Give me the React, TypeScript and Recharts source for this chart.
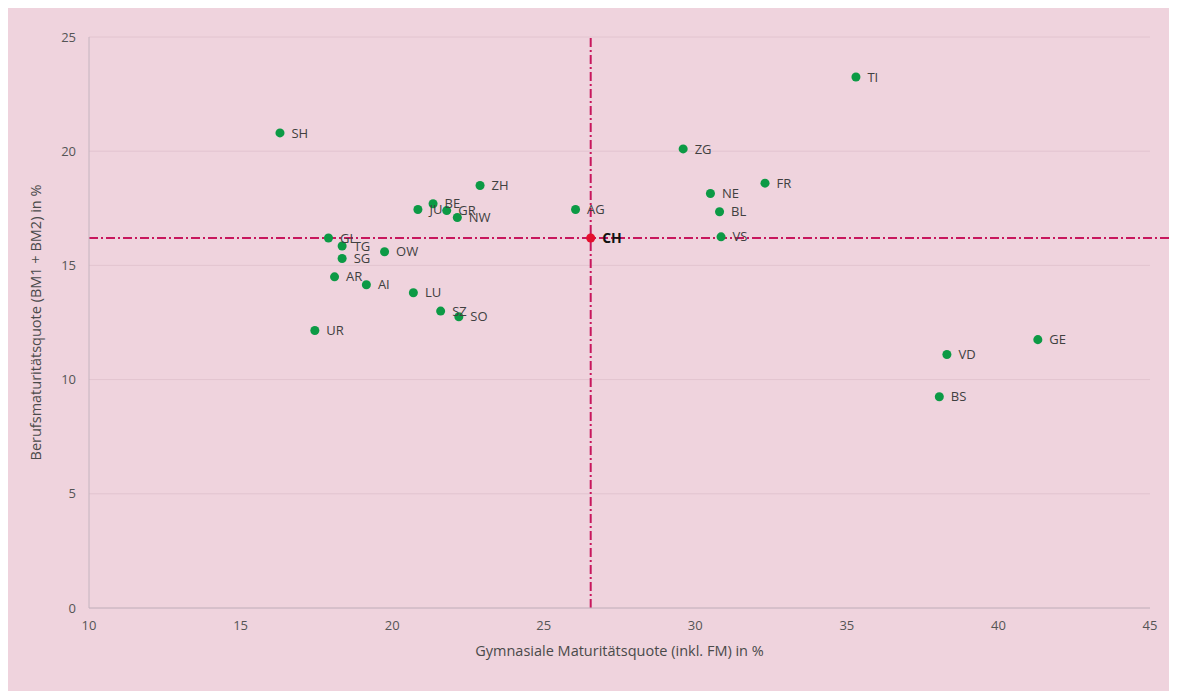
import { ScatterChart, Scatter, XAxis, YAxis, ZAxis, CartesianGrid, ReferenceLine, LabelList } from "recharts"

const cantons = ["TI", "SH", "ZG", "ZH", "FR", "NE", "BE", "JU", "GR", "NW", "AG", "BL", "VS", "GL", "TG", "SG", "OW", "AR", "AI", "LU", "SZ", "SO", "UR", "GE", "VD", "BS"]
const gymQuote = [35.3, 16.3, 29.6, 22.9, 32.3, 30.5, 21.35, 20.85, 21.8, 22.15, 26.05, 30.8, 30.85, 17.9, 18.35, 18.35, 19.75, 18.1, 19.15, 20.7, 21.6, 22.2, 17.45, 41.3, 38.3, 38.05]
const bmQuote = [23.25, 20.8, 20.1, 18.5, 18.6, 18.15, 17.7, 17.45, 17.4, 17.1, 17.45, 17.35, 16.25, 16.2, 15.85, 15.3, 15.6, 14.5, 14.15, 13.8, 13.0, 12.75, 12.15, 11.75, 11.1, 9.25]

const chName = "CH"
const chGym = 26.55
const chBm = 16.2

const xTicks = [10, 15, 20, 25, 30, 35, 40, 45]
const yTicks = [0, 5, 10, 15, 20, 25]

const points = cantons.map((name, i) => ({ name, x: gymQuote[i], y: bmQuote[i] }))
const chPoint = [{ name: chName, x: chGym, y: chBm }]

const font = "'Open Sans', Lato, sans-serif"
const lineColor = "#c8175d"
const dash = "9 3 2 3"

export default function App() {
  return (
    <div style={{ width: 1170, height: 687, marginTop: -4, marginLeft: -1, background: "#efd3dd", fontFamily: font }}>
      <ScatterChart width={1170} height={687} margin={{ top: 33, right: 27, left: 32, bottom: 33 }}>
        <CartesianGrid vertical={false} stroke="#e2c4cf" strokeWidth={1} />
        <XAxis
          type="number"
          dataKey="x"
          domain={[10, 45]}
          ticks={xTicks}
          height={50}
          tickLine={false}
          tickSize={0}
          tickMargin={13}
          stroke="#c4b4bf"
          tick={{ fill: "#555", fontSize: 13, fontFamily: font }}
          label={{
            content: ({ viewBox }: any) => (
              <text
                x={viewBox.x + viewBox.width / 2}
                y={viewBox.y + 48}
                textAnchor="middle"
                fill="#4a4a4a"
                fontSize={14.5}
                fontFamily={font}
              >
                Gymnasiale Maturitätsquote (inkl. FM) in %
              </text>
            ),
          }}
        />
        <YAxis
          type="number"
          dataKey="y"
          domain={[0, 25]}
          ticks={yTicks}
          width={50}
          tickLine={false}
          tickSize={0}
          tickMargin={13}
          stroke="#c4b4bf"
          tick={{ fill: "#555", fontSize: 13, fontFamily: font }}
          label={{
            content: ({ viewBox }: any) => {
              const cx = viewBox.x - 4
              const cy = viewBox.y + viewBox.height / 2
              return (
                <text
                  x={cx}
                  y={cy}
                  transform={`rotate(-90 ${cx} ${cy})`}
                  textAnchor="middle"
                  dominantBaseline="central"
                  fill="#4a4a4a"
                  fontSize={14.5}
                  fontFamily={font}
                >
                  Berufsmaturitätsquote (BM1 + BM2) in %
                </text>
              )
            },
          }}
        />
        <ZAxis range={[90, 90]} />
        <ReferenceLine
          y={chBm}
          stroke={lineColor}
          strokeWidth={2}
          strokeDasharray={dash}
          shape={(p: any) => (
            <line x1={p.x1} y1={p.y1} x2={p.x2 + 27} y2={p.y2} stroke={lineColor} strokeWidth={2} strokeDasharray={dash} />
          )}
        />
        <ReferenceLine x={chGym} stroke={lineColor} strokeWidth={2} strokeDasharray={dash} />
        <Scatter data={points} fill="#0c9a45" isAnimationActive={false}>
          <LabelList dataKey="name" position="right" offset={7} fill="#404040" fontSize={13} fontFamily={font} />
        </Scatter>
        <Scatter data={chPoint} fill="#e4102e" isAnimationActive={false}>
          <LabelList dataKey="name" position="right" offset={7} fill="#111" fontSize={14} fontWeight="bold" fontFamily={font} />
        </Scatter>
      </ScatterChart>
    </div>
  )
}
